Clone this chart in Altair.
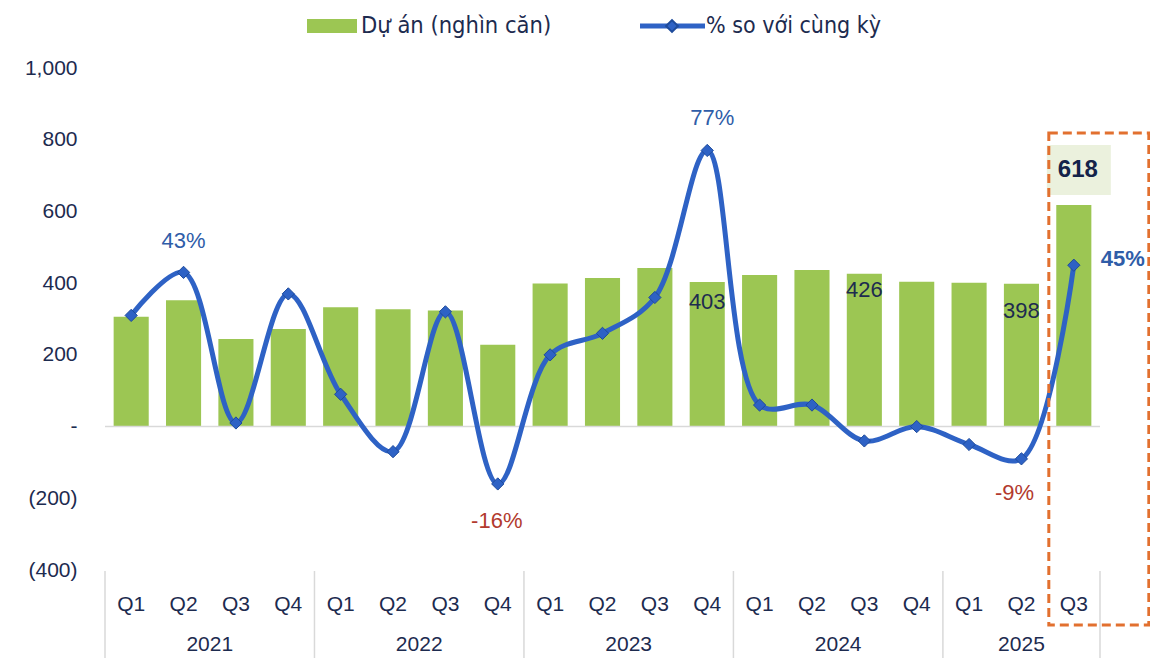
import altair as alt
import pandas as pd

# ---------------- data ----------------
years = ["2021"] * 4 + ["2022"] * 4 + ["2023"] * 4 + ["2024"] * 4 + ["2025"] * 3
quarters = ["Q1", "Q2", "Q3", "Q4"] * 4 + ["Q1", "Q2", "Q3"]
projects = [306, 352, 244, 272, 333, 327, 324, 228, 399, 414, 442, 403,
            423, 437, 426, 404, 401, 398, 618]          # Dự án (nghìn căn)
yoy_pct = [31, 43, 1, 37, 9, -7, 32, -16, 20, 26, 36, 77,
           6, 6, -4, 0, -5, -9, 45]                     # % so với cùng kỳ
series_names = ["Dự án (nghìn căn)", "% so với cùng kỳ"]
y_ticks = [-400, -200, 0, 200, 400, 600, 800, 1000]

keys = [f"{y}-{q}" for y, q in zip(years, quarters)]
df = pd.DataFrame({"key": keys, "year": years, "quarter": quarters,
                   "projects": projects, "yoy": yoy_pct})

uniq_years = list(dict.fromkeys(years))
year_rows = []
for yr in uniq_years:
    ks = [k for k, y in zip(keys, years) if y == yr]
    year_rows.append({"year": yr, "first": ks[0], "last": ks[-1],
                      "n": len(ks), "mid": ks[(len(ks) - 1) // 2]})
ydf = pd.DataFrame(year_rows)

# ---------------- style ----------------
W, H = 995, 502
STEP = W / len(keys)
FONT = "Liberation Sans, Arial, sans-serif"
NARROW = "Liberation Sans Narrow, DejaVu Sans Condensed, Roboto Condensed, Liberation Sans, sans-serif"
NAVY = "#1D2B4F"
GREEN = "#9CC653"
BLUE = "#2E62C5"
BLUE_TXT = "#2F5DA8"
RED = "#B23A2E"
GREY = "#D9D9D9"
ORANGE = "#E2702F"

xenc = alt.X("key:N", sort=keys,
             scale=alt.Scale(paddingInner=0.33, paddingOuter=0.165),
             axis=alt.Axis(title=None, labelExpr="split(datum.label, '-')[1]",
                           ticks=False, domain=False, labelAngle=0,
                           labelFontSize=21, labelColor=NAVY, labelFont=FONT,
                           labelPadding=23))
yscale = alt.Scale(domain=[-400, 1000], nice=False, zero=False)
yaxis = alt.Axis(title=None, values=y_ticks, grid=False, ticks=False, domain=False,
                 labelFontSize=21, labelColor=NAVY, labelFont=FONT, labelPadding=28,
                 labelExpr="datum.value == 0 ? '-' : (datum.value < 0 ? '(' + format(-datum.value, ',') + ')' : format(datum.value, ','))")

base = alt.Chart(df)

bars = base.mark_bar(color=GREEN).encode(
    x=xenc, y=alt.Y("projects:Q", scale=yscale, axis=yaxis))

zero = alt.Chart(pd.DataFrame({"v": [0]})).mark_rule(color=GREY, strokeWidth=1.5).encode(
    y=alt.Y("v:Q", scale=yscale, axis=yaxis), x=alt.value(0), x2=alt.value(W))

liney = alt.Y("yv:Q", scale=yscale, axis=yaxis)
line = base.transform_calculate(yv="datum.yoy * 10").mark_line(
    interpolate="catmull-rom", color=BLUE, strokeWidth=5).encode(x=xenc, y=liney)
pts = base.transform_calculate(yv="datum.yoy * 10").mark_point(
    shape="diamond", filled=True, size=150, fill=BLUE, stroke="#1E4B9B",
    strokeWidth=1, opacity=1).encode(x=xenc, y=liney)


def pct_label(sel, dx, dy, color, weight="normal", size=22):
    return base.transform_filter(
        alt.FieldOneOfPredicate(field="key", oneOf=sel)
    ).transform_calculate(yv="datum.yoy * 10", lbl="datum.yoy + '%'").mark_text(
        dx=dx, dy=dy, color=color, fontSize=size, font=FONT, fontWeight=weight
    ).encode(x=xenc, y=liney, text="lbl:N")


def bar_label(sel, dx, dy, color=NAVY, weight="normal", size=22):
    return base.transform_filter(
        alt.FieldOneOfPredicate(field="key", oneOf=sel)
    ).mark_text(dx=dx, dy=dy, color=color, fontSize=size, font=FONT,
                fontWeight=weight).encode(
        x=xenc, y=alt.Y("projects:Q", scale=yscale, axis=yaxis), text="projects:Q")


labels = [
    pct_label(["2021-Q2"], 0, -31, BLUE_TXT),
    pct_label(["2023-Q4"], 5, -32, BLUE_TXT),
    pct_label(["2022-Q4"], -1, 37, RED),
    pct_label(["2025-Q2"], -7, 34, RED),
    pct_label(["2025-Q3"], 49, -6, BLUE_TXT, weight="bold"),
    bar_label(["2023-Q4"], 0, 20),
    bar_label(["2024-Q3"], 0, 16),
    bar_label(["2025-Q2"], 0, 27),
]

last_key = keys[-1]
hl = base.transform_filter(alt.datum.key == last_key)
box618 = hl.mark_rect(color="#EBF1DD", width=64, xOffset=5).encode(
    x=xenc, y=alt.value(77), y2=alt.value(127))
lbl618 = bar_label([last_key], 4, -35, color="#14234A", weight="bold", size=24)
frame = hl.mark_rect(fill="transparent", stroke=ORANGE, strokeWidth=3,
                     strokeDash=[9, 5], width=100, xOffset=25).encode(
    x=xenc, y=alt.value(65), y2=alt.value(557))

# year labels and separators under the quarter axis
yd = alt.Chart(ydf)
year4 = yd.transform_filter("datum.n % 2 == 0").mark_text(
    xOffset=STEP / 2, fontSize=21, font=FONT, color=NAVY).encode(
    x=alt.X("mid:N", sort=keys), y=alt.value(577), text="year:N")
year3 = yd.transform_filter("datum.n % 2 == 1").mark_text(
    fontSize=21, font=FONT, color=NAVY).encode(
    x=alt.X("mid:N", sort=keys), y=alt.value(577), text="year:N")
sep_l = yd.mark_rule(color=GREY, strokeWidth=1.5, xOffset=-STEP / 2).encode(
    x=alt.X("first:N", sort=keys), y=alt.value(503), y2=alt.value(600))
sep_r = yd.transform_filter(alt.datum.year == uniq_years[-1]).mark_rule(
    color=GREY, strokeWidth=1.5, xOffset=STEP / 2).encode(
    x=alt.X("last:N", sort=keys), y=alt.value(503), y2=alt.value(600))

# legend (top)
leg = alt.Chart(pd.DataFrame({"name": series_names}))
leg_rect = leg.transform_filter(alt.datum.name == series_names[0]).mark_rect(
    color=GREEN).encode(x=alt.value(202), x2=alt.value(252),
                        y=alt.value(-49), y2=alt.value(-35))
leg_t1 = leg.transform_filter(alt.datum.name == series_names[0]).mark_text(
    align="left", baseline="middle", fontSize=23.5, font=NARROW, color=NAVY).encode(
    x=alt.value(256), y=alt.value(-42), text="name:N")
leg_line = leg.transform_filter(alt.datum.name == series_names[1]).mark_rule(
    color=BLUE, strokeWidth=5).encode(x=alt.value(535), x2=alt.value(600),
                                      y=alt.value(-42))
leg_pt = leg.transform_filter(alt.datum.name == series_names[1]).mark_point(
    shape="diamond", filled=True, size=140, fill=BLUE, stroke="#1E4B9B",
    opacity=1).encode(x=alt.value(567), y=alt.value(-42))
leg_t2 = leg.transform_filter(alt.datum.name == series_names[1]).mark_text(
    align="left", baseline="middle", fontSize=23, font=NARROW, color=NAVY).encode(
    x=alt.value(601), y=alt.value(-42), text="name:N")

chart = alt.layer(
    bars, box618, zero, line, pts, *labels, lbl618, frame,
    year4, year3, sep_l, sep_r,
    leg_rect, leg_t1, leg_line, leg_pt, leg_t2,
).properties(
    width=W, height=H,
    autosize=alt.AutoSizeParams(type="none"),
    padding={"left": 97, "top": 60, "right": 50, "bottom": 88},
    background="white",
).configure_view(stroke=None)

chart.save("out.html", embed_options={"renderer": "svg", "actions": False})
